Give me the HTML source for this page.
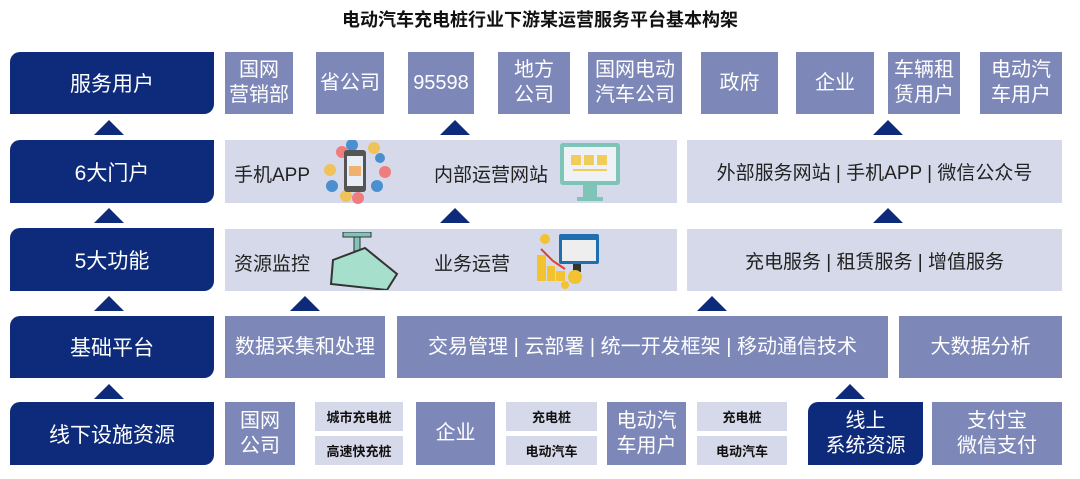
<!DOCTYPE html><html><head><meta charset="utf-8"><style>
body{margin:0;width:1080px;height:479px;background:#fff;position:relative;overflow:hidden;font-family:"Liberation Sans","Noto Sans CJK SC",sans-serif}
.a{position:absolute;display:flex;align-items:center;justify-content:center;text-align:center;box-sizing:border-box}
.d{background:#0d2b7a;color:#fff;font-size:21px;border-radius:10px 0 10px 0}
.m{background:#7d88b9;color:#fff;font-size:20px;line-height:25px}
.l{background:#d6d9e9;color:#222;font-size:19px}
.s{background:#d6d9e9;color:#111;font-size:13px;font-weight:bold}
.t{position:absolute;width:0;height:0;border-left:15px solid transparent;border-right:15px solid transparent;border-bottom:15px solid #0d2b7a}
.x{position:absolute;font-size:19px;color:#222}
</style></head><body>
<div class="a" style="left:0;top:5px;width:1080px;height:28px;font-size:18px;font-weight:bold;color:#111">电动汽车充电桩行业下游某运营服务平台基本构架</div>

<div class="a d" style="left:10px;top:52px;width:204px;height:62px">服务用户</div>
<div class="a d" style="left:10px;top:140px;width:204px;height:63px">6大门户</div>
<div class="a d" style="left:10px;top:228px;width:204px;height:63px">5大功能</div>
<div class="a d" style="left:10px;top:316px;width:204px;height:62px">基础平台</div>
<div class="a d" style="left:10px;top:402px;width:204px;height:63px">线下设施资源</div>
<div class="t" style="left:94px;top:120px"></div>
<div class="t" style="left:94px;top:208px"></div>
<div class="t" style="left:94px;top:296px"></div>
<div class="t" style="left:94px;top:384px"></div>

<div class="a m" style="left:225px;top:52px;width:68px;height:62px">国网<br>营销部</div>
<div class="a m" style="left:316px;top:52px;width:68px;height:62px">省公司</div>
<div class="a m" style="left:408px;top:52px;width:66px;height:62px">95598</div>
<div class="a m" style="left:498px;top:52px;width:72px;height:62px">地方<br>公司</div>
<div class="a m" style="left:588px;top:52px;width:94px;height:62px">国网电动<br>汽车公司</div>
<div class="a m" style="left:701px;top:52px;width:77px;height:62px">政府</div>
<div class="a m" style="left:796px;top:52px;width:78px;height:62px">企业</div>
<div class="a m" style="left:888px;top:52px;width:72px;height:62px">车辆租<br>赁用户</div>
<div class="a m" style="left:980px;top:52px;width:82px;height:62px">电动汽<br>车用户</div>
<div class="t" style="left:440px;top:120px"></div>
<div class="t" style="left:873px;top:120px"></div>

<div class="a l" style="left:225px;top:140px;width:452px;height:63px"></div>
<div class="a l" style="left:687px;top:140px;width:375px;height:63px">外部服务网站 | 手机APP | 微信公众号</div>
<div class="x" style="left:234px;top:160px">手机APP</div>
<svg style="position:absolute;left:312px;top:140px" width="85" height="64"><g fill="#f0c25a"><circle cx="18" cy="30" r="6"/><circle cx="34" cy="56" r="6"/><circle cx="62" cy="8" r="6"/></g><g fill="#4a90d0"><circle cx="20" cy="46" r="6"/><circle cx="40" cy="5" r="6"/><circle cx="65" cy="46" r="6"/><circle cx="68" cy="18" r="5"/></g><g fill="#ef7d7d"><circle cx="30" cy="12" r="6"/><circle cx="46" cy="58" r="6"/><circle cx="73" cy="32" r="6"/></g><rect x="32" y="10" width="22" height="42" rx="3" fill="#555"/><rect x="35" y="16" width="16" height="30" fill="#e8eef6"/><rect x="37" y="26" width="12" height="10" fill="#f0b070"/></svg>
<div class="x" style="left:434px;top:160px">内部运营网站</div>
<svg style="position:absolute;left:559px;top:141px" width="62" height="62"><rect x="1" y="2" width="60" height="42" rx="3" fill="#7fc4b8"/><rect x="5" y="6" width="52" height="34" fill="#eef2f6"/><rect x="12" y="14" width="10" height="10" fill="#f2cc5a"/><rect x="25" y="14" width="10" height="10" fill="#f2cc5a"/><rect x="38" y="14" width="10" height="10" fill="#f2cc5a"/><rect x="14" y="28" width="34" height="2" fill="#f2cc5a"/><rect x="24" y="44" width="14" height="12" fill="#7fc4b8"/><rect x="18" y="56" width="26" height="4" fill="#7fc4b8"/></svg>
<div class="t" style="left:440px;top:208px"></div>
<div class="t" style="left:873px;top:208px"></div>

<div class="a l" style="left:225px;top:229px;width:452px;height:62px"></div>
<div class="a l" style="left:687px;top:229px;width:375px;height:62px">充电服务 | 租赁服务 | 增值服务</div>
<div class="x" style="left:234px;top:249px">资源监控</div>
<svg style="position:absolute;left:325px;top:232px" width="75" height="58"><rect x="18" y="0" width="28" height="5" fill="#7fc4b8" stroke="#333"/><rect x="29" y="5" width="6" height="14" fill="#7fc4b8" stroke="#333"/><polygon points="8,28 40,16 72,42 62,58 6,52" fill="#a6e0cc" stroke="#333" stroke-width="2"/></svg>
<div class="x" style="left:434px;top:249px">业务运营</div>
<svg style="position:absolute;left:535px;top:231px" width="70" height="58"><rect x="24" y="3" width="40" height="30" rx="2" fill="#1f6fb0"/><rect x="27" y="9" width="34" height="21" fill="#eee"/><rect x="38" y="33" width="8" height="8" fill="#333"/><g fill="#f2c230"><rect x="2" y="24" width="9" height="26"/><rect x="12" y="35" width="8" height="15"/><rect x="21" y="40" width="9" height="10"/><circle cx="10" cy="8" r="5"/><circle cx="40" cy="46" r="7"/><circle cx="30" cy="54" r="4"/></g><polyline points="6,18 18,30 30,38" stroke="#e04030" stroke-width="2" fill="none"/></svg>
<div class="t" style="left:290px;top:296px"></div>
<div class="t" style="left:697px;top:296px"></div>

<div class="a m" style="left:225px;top:316px;width:160px;height:62px">数据采集和处理</div>
<div class="a m" style="left:397px;top:316px;width:491px;height:62px">交易管理 | 云部署 | 统一开发框架 | 移动通信技术</div>
<div class="a m" style="left:899px;top:316px;width:163px;height:62px">大数据分析</div>
<div class="t" style="left:835px;top:384px"></div>

<div class="a m" style="left:225px;top:402px;width:70px;height:63px">国网<br>公司</div>
<div class="a s" style="left:315px;top:402px;width:88px;height:29px">城市充电桩</div>
<div class="a s" style="left:315px;top:436px;width:88px;height:29px">高速快充桩</div>
<div class="a m" style="left:416px;top:402px;width:79px;height:63px">企业</div>
<div class="a s" style="left:506px;top:402px;width:91px;height:29px">充电桩</div>
<div class="a s" style="left:506px;top:436px;width:91px;height:29px">电动汽车</div>
<div class="a m" style="left:607px;top:402px;width:79px;height:63px">电动汽<br>车用户</div>
<div class="a s" style="left:697px;top:402px;width:90px;height:29px">充电桩</div>
<div class="a s" style="left:697px;top:436px;width:90px;height:29px">电动汽车</div>
<div class="a d" style="left:808px;top:402px;width:115px;height:63px;font-size:20px;line-height:25px">线上<br>系统资源</div>
<div class="a m" style="left:932px;top:402px;width:130px;height:63px">支付宝<br>微信支付</div>
</body></html>
